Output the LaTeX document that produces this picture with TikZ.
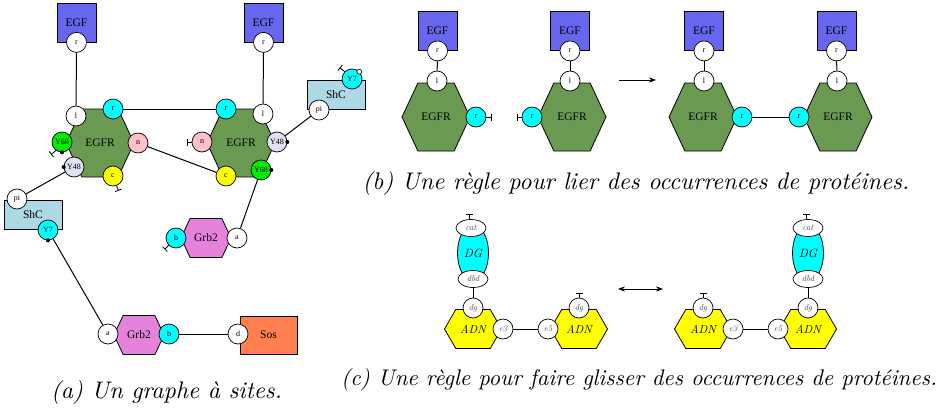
\documentclass[tikz,border=0pt]{standalone}
\usepackage{fontspec}
\usepackage{tikz}
\usetikzlibrary{arrows.meta,positioning,shapes.geometric,shapes.symbols}
\newfontfamily\tms{Liberation Serif}
\newfontfamily\lmit{lmroman10-italic.otf}

\definecolor{egfblue}{RGB}{102,102,238}
\definecolor{egfrgreen}{RGB}{106,153,82}
\definecolor{shcblue}{RGB}{173,216,230}
\definecolor{grbviolet}{RGB}{228,130,220}
\definecolor{soscoral}{RGB}{255,127,80}
\definecolor{sitepink}{RGB}{255,192,203}
\definecolor{sitelav}{RGB}{225,225,245}
\definecolor{sitegreen}{RGB}{0,238,0}
\definecolor{sitecyan}{RGB}{0,255,255}
\definecolor{siteyellow}{RGB}{255,255,0}

\begin{document}
\begin{tikzpicture}[
    x=1pt, y=-1pt,
    protein/.style={draw, line width=0.8pt, inner sep=0pt, font=\tms\fontsize{11.5}{12}\selectfont},
    box/.style={protein, rectangle, minimum width=39pt, minimum height=39pt},
    hexa/.style={protein, signal, signal to=east and west, signal pointer angle=130,
                 fill=egfrgreen, minimum width=68pt, minimum height=68pt},
    small hexa/.style={hexa, minimum width=50pt, minimum height=39pt},
    site/.style={circle, draw, fill=white, line width=0.7pt, minimum size=20pt, inner sep=0pt,
                 font=\tms\fontsize{8}{8}\selectfont},
    esite/.style={ellipse, draw, fill=white, line width=0.7pt, minimum width=30pt, minimum height=17pt,
                 inner sep=0pt, font=\lmit\fontsize{8.5}{9}\selectfont\color{black!75}},
    csite/.style={site, font=\lmit\fontsize{8.5}{9}\selectfont\color{black!75}},
    adn/.style={hexa, fill=siteyellow, signal pointer angle=120, minimum width=57pt, minimum height=39pt,
                font=\lmit\fontsize{11.5}{12}\selectfont},
    dgprot/.style={protein, ellipse, fill=sitecyan, minimum width=31pt, minimum height=56pt,
                font=\lmit\fontsize{12}{12}\selectfont},
    link/.style={line width=1pt},
    free/.style={line width=0.8pt, -{Bar[width=7pt]}},
    arrow/.style={-{Stealth[length=7pt]}, line width=0.8pt},
    caption/.style={font=\lmit\fontsize{24}{28}\selectfont}
]
    \useasboundingbox (0,0) rectangle (952,412);

    % (a) site graph
    \node[box, fill=egfblue] (egfA) at (76.5,22.5) {EGF};
    \node[site] (egfAr) at (egfA.south) {r};
    \node[box, fill=egfblue] (egfB) at (263.5,22.5) {EGF};
    \node[site] (egfBr) at (egfB.south) {r};

    \node[hexa] (egfrA) at (100,143) {EGFR};
    \node[site] (egfrAl) at (76,116) {l};
    \node[site, fill=sitecyan] (egfrAr) at (113,109) {r};
    \node[site, fill=sitepink] (egfrAn) at (138,143) {n};
    \node[site, fill=siteyellow] (egfrAc) at (113,176) {c};
    \node[site, fill=sitelav] (egfrAya) at (74,167) {Y48};
    \node[site, fill=sitegreen] (egfrAyb) at (62,142) {Y68};

    \node[hexa] (egfrB) at (241,143) {EGFR};
    \node[site, fill=sitecyan] (egfrBr) at (226,109) {r};
    \node[site] (egfrBl) at (263,114) {l};
    \node[site, fill=sitepink] (egfrBn) at (202,142) {n};
    \node[site, fill=sitelav] (egfrBya) at (277,142) {Y48};
    \node[site, fill=siteyellow] (egfrBc) at (226,176) {c};
    \node[site, fill=sitegreen] (egfrByb) at (261,170) {Y68};

    \node[box, fill=shcblue, minimum width=58pt, minimum height=29pt] (shcA) at (33,215) {ShC};
    \node[site] (shcApi) at (17,199) {pi};
    \node[site, fill=sitecyan] (shcAy) at (48,230) {Y7};
    \node[box, fill=shcblue, minimum width=58pt, minimum height=29pt] (shcB) at (336,94.5) {ShC};
    \node[site] (shcBpi) at (319,110) {pi};
    \node[site, fill=sitecyan] (shcBy) at (352,79) {Y7};

    \node[small hexa, fill=grbviolet] (grbA) at (206,238) {Grb2};
    \node[site, fill=sitecyan] (grbAb) at (176,238) {b};
    \node[site] (grbAa) at (237,238) {a};
    \node[small hexa, fill=grbviolet] (grbB) at (139,335) {Grb2};
    \node[site] (grbBa) at (108,334) {a};
    \node[site, fill=sitecyan] (grbBb) at (169,334) {b};
    \node[box, fill=soscoral, minimum width=57pt, minimum height=38pt] (sos) at (268.5,335) {Sos};
    \node[site] (sosd) at (238,334) {d};

    \draw[link] (egfAr) -- (egfrAl);
    \draw[link] (egfBr) -- (egfrBl);
    \draw[link] (egfrAr) -- (egfrBr);
    \draw[link] (egfrAn) -- (egfrBc);
    \draw[link] (egfrAya) -- (shcApi);
    \draw[link] (egfrBya) -- (shcBpi);
    \draw[link] (egfrByb) -- (grbAa);
    \draw[link] (shcAy) -- (grbBa);
    \draw[link] (grbBb) -- (sosd);

    \fill (egfrAyb.south) circle[radius=2pt];
    \fill (egfrAya.west) circle[radius=2pt];
    \fill (egfrBya.east) circle[radius=2pt];
    \fill (egfrByb.east) circle[radius=2pt];
    \fill (shcAy.south) circle[radius=2pt];
    \draw[fill=white, line width=0.6pt] (shcBy.45) circle[radius=2.5pt];
    \draw[free] (egfrAyb.235) -- ++(-5,4);
    \draw[free] (egfrAc.-70) -- ++(2,5);
    \draw[free] (egfrBn.west) -- ++(-5,0);
    \draw[free] (shcBy.135) -- ++(-5,-4);
    \draw[free] (grbAb.225) -- ++(-4,4);

    \node[caption] (capA) at (166.5,392) {(a) Un graphe à sites.};

    % (b) binding rule
    \node[box, fill=egfblue] (egfC) at (437.5,31) {EGF};
    \node[site] (egfCr) at (egfC.south) {r};
    \node[hexa] (egfrC) at (436,117) {EGFR};
    \node[site] (egfrCl) at (437,81) {l};
    \node[site, fill=sitecyan] (egfrCr) at (476,117) {r};
    \node[box, fill=egfblue] (egfD) at (570,31) {EGF};
    \node[site] (egfDr) at (egfD.south) {r};
    \node[hexa] (egfrD) at (572,117) {EGFR};
    \node[site] (egfrDl) at (570,81) {l};
    \node[site, fill=sitecyan] (egfrDr) at (532,117) {r};
    \draw[link] (egfCr) -- (egfrCl);
    \draw[link] (egfDr) -- (egfrDl);
    \draw[free] (egfrCr.east) -- ++(5,0);
    \draw[free] (egfrDr.west) -- ++(-5,0);

    \coordinate (ruleS) at (619,80);
    \coordinate (ruleE) at (656,80);
    \draw[arrow] (ruleS) -- (ruleE);

    \node[box, fill=egfblue] (egfE) at (704,31) {EGF};
    \node[site] (egfEr) at (egfE.south) {r};
    \node[hexa] (egfrE) at (703,117) {EGFR};
    \node[site] (egfrEl) at (704,81) {l};
    \node[site, fill=sitecyan] (egfrEr) at (742,117) {r};
    \node[box, fill=egfblue] (egfF) at (836.5,31) {EGF};
    \node[site] (egfFr) at (egfF.south) {r};
    \node[hexa] (egfrF) at (838,117) {EGFR};
    \node[site] (egfrFl) at (837,81) {l};
    \node[site, fill=sitecyan] (egfrFr) at (799,117) {r};
    \draw[link] (egfEr) -- (egfrEl);
    \draw[link] (egfFr) -- (egfrFl);
    \draw[link] (egfrEr) -- (egfrFr);

    \node[caption] (capB) at (636,183) {(b) Une règle pour lier des occurrences de protéines.};

    % (c) sliding rule
    \node[dgprot] (dgL) at (473,253) {DG};
    \node[esite] (dgLcat) at (471,228) {cat};
    \node[esite] (dgLdbd) at (473,279) {dbd};
    \node[adn] (adnLa) at (473,329) {ADN};
    \node[csite] (adnLadg) at (473,308) {dg};
    \node[csite] (adnLae) at (503,329) {e3};
    \node[adn] (adnLb) at (579,329) {ADN};
    \node[csite] (adnLbdg) at (579,308) {dg};
    \node[csite] (adnLbe) at (548,329) {e5};
    \draw[link] (dgLdbd) -- (adnLadg);
    \draw[link] (adnLae) -- (adnLbe);
    \draw[free] (dgLcat.100) -- ++(0,-5);
    \draw[free] (adnLbdg.north) -- ++(0,-5);

    \coordinate (slideS) at (618,289);
    \coordinate (slideE) at (663,289);
    \draw[arrow, {Stealth[length=7pt]}-{Stealth[length=7pt]}] (slideS) -- (slideE);

    \node[dgprot] (dgR) at (808,253) {DG};
    \node[esite] (dgRcat) at (808,228) {cat};
    \node[esite] (dgRdbd) at (808,279) {dbd};
    \node[adn] (adnRa) at (703,329) {ADN};
    \node[csite] (adnRadg) at (703,308) {dg};
    \node[csite] (adnRae) at (733,329) {e3};
    \node[adn] (adnRb) at (808,329) {ADN};
    \node[csite] (adnRbdg) at (808,308) {dg};
    \node[csite] (adnRbe) at (778,329) {e5};
    \draw[link] (dgRdbd) -- (adnRbdg);
    \draw[link] (adnRae) -- (adnRbe);
    \draw[free] (dgRcat.100) -- ++(0,-5);
    \draw[free] (adnRadg.north) -- ++(0,-5);

    \node[caption, font=\lmit\fontsize{22.6}{26}\selectfont] (capC) at (639,380)
        {(c) Une règle pour faire glisser des occurrences de protéines.};
\end{tikzpicture}
\end{document}
